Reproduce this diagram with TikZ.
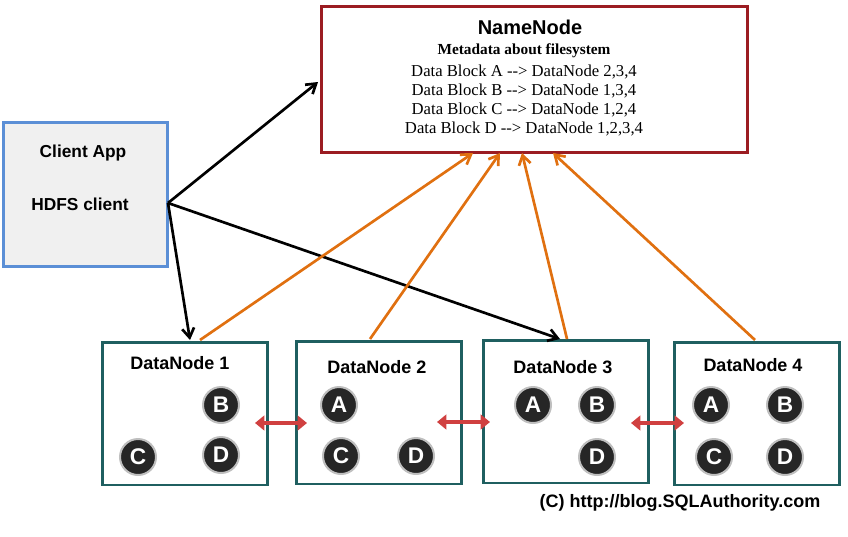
\documentclass[tikz,border=0pt]{standalone}
\usepackage{fontspec}
\setmainfont{Liberation Serif}
\setsansfont{Liberation Sans}
\usetikzlibrary{arrows.meta}
\definecolor{nnred}{HTML}{9B1C22}
\definecolor{clblue}{HTML}{5B8FD6}
\definecolor{dnteal}{HTML}{1F5F60}
\definecolor{linkred}{HTML}{D04040}
\definecolor{repl}{HTML}{E07010}
\tikzset{
  box/.style={draw, line width=2pt, minimum width=#1, anchor=north west, inner sep=0pt},
  dn/.style={box=124pt, draw=dnteal, minimum height=107pt},
  dntitle/.style={font=\sffamily\bfseries\fontsize{13.5}{15}\selectfont},
  blk/.style={circle, fill=black!85, draw=black!25, line width=1.5pt, minimum size=27pt, inner sep=0pt,
    text=white, font=\sffamily\bfseries\fontsize{17}{17}\selectfont},
  req/.style={-{Straight Barb[length=7pt,width=9pt]}, line width=2pt, black},
  rep/.style={-{Straight Barb[length=7pt,width=9pt]}, line width=2pt, repl},
  sync/.style={{Triangle[length=7pt,width=11pt]}-{Triangle[length=7pt,width=11pt]}, line width=3pt, linkred}
}
\begin{document}
\begin{tikzpicture}[x=0.75pt,y=-0.75pt]
    \useasboundingbox (0,0) rectangle (848,536);

    % NameNode
    \node[box=319.5pt, draw=nnred, fill=white, minimum height=109.5pt] (nn) at (320,5) {};
    \node[font=\sffamily\bfseries\fontsize{15}{16}\selectfont] (nntitle) at (530,27) {NameNode};
    \node[font=\bfseries\fontsize{11.5}{12}\selectfont] (meta) at (524,51) {Metadata about filesystem};
    \node[align=center, font=\fontsize{12.5}{14.25}\selectfont] (map) at (524,100)
      {Data Block A -{}-> DataNode 2,3,4\\Data Block B -{}-> DataNode 1,3,4\\
       Data Block C -{}-> DataNode 1,2,4\\Data Block D -{}-> DataNode 1,2,3,4};

    % Client
    \node[box=123pt, draw=clblue, fill=black!6, minimum height=108pt] (client) at (2,121) {};
    \node[font=\sffamily\bfseries\fontsize{13}{14}\selectfont] (app) at (83,153) {Client App};
    \node[font=\sffamily\bfseries\fontsize{13}{14}\selectfont] (hdfs) at (80,204) {HDFS client};

    % DataNodes
    \node[dn] (dn1) at (101,341) {};
    \node[dn] (dn2) at (295,340) {};
    \node[dn] (dn3) at (482,339) {};
    \node[dn] (dn4) at (673,341) {};
    \node[dntitle] (t1) at (180,363) {DataNode 1};
    \node[dntitle] (t2) at (377,367) {DataNode 2};
    \node[dntitle] (t3) at (563,367) {DataNode 3};
    \node[dntitle] (t4) at (753,365) {DataNode 4};

    % blocks
    \node[blk] (b1) at (221,405) {B};
    \node[blk] (c1) at (138,457) {C};
    \node[blk] (d1) at (221,455) {D};
    \node[blk] (a2) at (339,405) {A};
    \node[blk] (c2) at (341,456) {C};
    \node[blk] (d2) at (416,456) {D};
    \node[blk] (a3) at (533,405) {A};
    \node[blk] (b3) at (597,405) {B};
    \node[blk] (d3) at (597,457) {D};
    \node[blk] (a4) at (711,405) {A};
    \node[blk] (b4) at (785,405) {B};
    \node[blk] (c4) at (714,457) {C};
    \node[blk] (d4) at (785,457) {D};

    % end points
    \coordinate (hub) at (168,203);
    \coordinate (nnin) at (318,82);
    \coordinate (dn1in) at (190,340);
    \coordinate (dn3in) at (560,339);
    \coordinate (dn1out) at (200,340);
    \coordinate (dn2out) at (370,339);
    \coordinate (dn3out) at (567,339);
    \coordinate (dn4out) at (755,340);
    \coordinate (r1) at (473,153);
    \coordinate (r2) at (500,153);
    \coordinate (r3) at (522,153);
    \coordinate (r4) at (553,153);
    \coordinate (s1a) at (255,423); \coordinate (s1b) at (307,423);
    \coordinate (s2a) at (437,422); \coordinate (s2b) at (490,422);
    \coordinate (s3a) at (631,423); \coordinate (s3b) at (684,423);

    \draw[req] (hub) -- (nnin);
    \draw[req] (hub) -- (dn1in);
    \draw[req] (hub) -- (dn3in);
    \draw[rep] (dn1out) -- (r1);
    \draw[rep] (dn2out) -- (r2);
    \draw[rep] (dn3out) -- (r3);
    \draw[rep] (dn4out) -- (r4);
    \draw[sync] (s1a) -- (s1b);
    \draw[sync] (s2a) -- (s2b);
    \draw[sync] (s3a) -- (s3b);

    \node[font=\sffamily\bfseries\fontsize{13.5}{15}\selectfont] (copy) at (680,503) {(C) http://blog.SQLAuthority.com};
\end{tikzpicture}
\end{document}
